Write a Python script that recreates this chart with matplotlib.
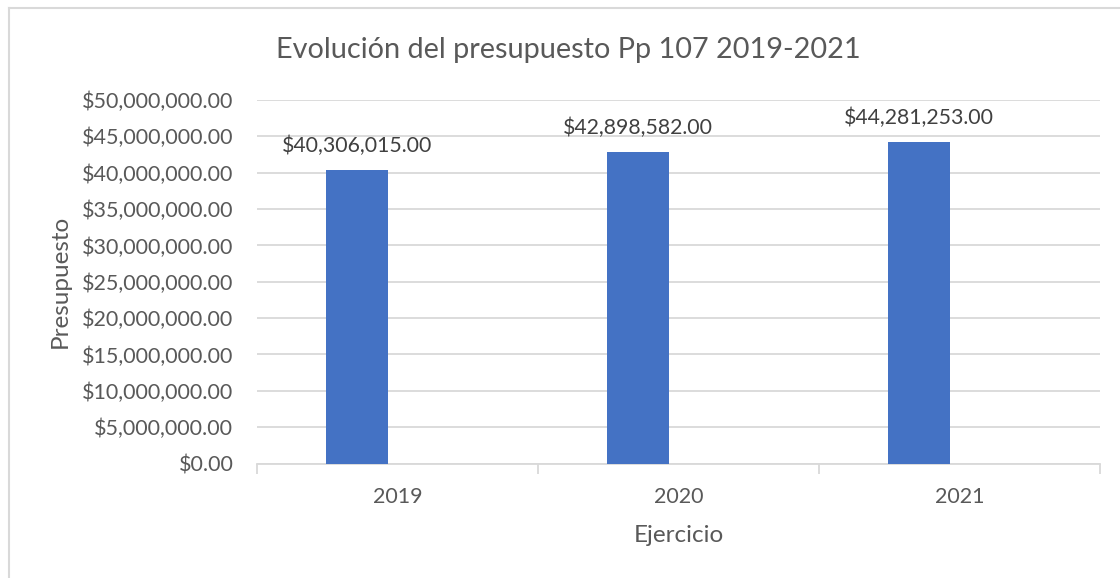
import matplotlib
matplotlib.use('Agg')
import matplotlib.pyplot as plt
from matplotlib.lines import Line2D
from matplotlib.ticker import FuncFormatter, MultipleLocator

# datos
years = ['2019', '2020', '2021']
budget = [40306015.00, 42898582.00, 44281253.00]

plt.rcParams['font.family'] = ['Lato', 'DejaVu Sans']
gray_txt = '#595959'
grid_col = '#d9d9d9'
bar_col = '#4472c4'

W, H = 1120, 578
fig = plt.figure(figsize=(W / 100, H / 100), dpi=100)

# marco del gráfico (solo se ve arriba y a la izquierda)
fig.add_artist(Line2D([8.5 / W, 8.5 / W], [0, 1 - 7.5 / H], transform=fig.transFigure,
                      color=grid_col, linewidth=1.5))
fig.add_artist(Line2D([8.5 / W, 1], [1 - 7.5 / H, 1 - 7.5 / H], transform=fig.transFigure,
                      color=grid_col, linewidth=1.5))

ax = fig.add_axes([257 / W, (H - 463.5) / H, 843 / W, 363.5 / H])

x = range(len(years))
xpos = [i - 0.144 for i in x]
bars = ax.bar(xpos, budget, width=0.223, color=bar_col, zorder=3)

for b, v in zip(bars, budget):
    ax.annotate(f'${v:,.2f}', (b.get_x() + b.get_width() / 2, v), xytext=(0, 10),
                textcoords='offset points', ha='center', va='bottom',
                fontsize=15.3, color='#404040')

ax.set_xlim(-0.5, 2.5)
ax.set_ylim(0, 50000000)
ax.yaxis.set_major_locator(MultipleLocator(5000000))
ax.yaxis.set_major_formatter(FuncFormatter(lambda v, p: f'${v:,.2f}'))
ax.grid(axis='y', color=grid_col, linewidth=1.3, zorder=0)

ax.set_xticks(list(x))
ax.set_xticklabels(years)
ax.set_xticks([-0.5, 0.5, 1.5, 2.5], minor=True)
ax.tick_params(axis='x', which='major', length=0, pad=17, labelsize=15.5, labelcolor=gray_txt)
ax.tick_params(axis='x', which='minor', length=7, width=1.3, color=grid_col)
ax.tick_params(axis='y', length=0, pad=17, labelsize=15.5, labelcolor=gray_txt)

for s in ['top', 'right', 'left']:
    ax.spines[s].set_visible(False)
ax.spines['bottom'].set_color(grid_col)
ax.spines['bottom'].set_linewidth(1.3)

ax.set_ylabel('Presupuesto', fontsize=17.5, color=gray_txt, labelpad=8)
ax.set_xlabel('Ejercicio', fontsize=17.5, color=gray_txt, labelpad=13)
fig.text(568 / W, 1 - 50 / H, 'Evolución del presupuesto Pp 107 2019-2021',
         ha='center', va='center', fontsize=20.8, color=gray_txt)

fig.savefig('out.png', dpi=100)
